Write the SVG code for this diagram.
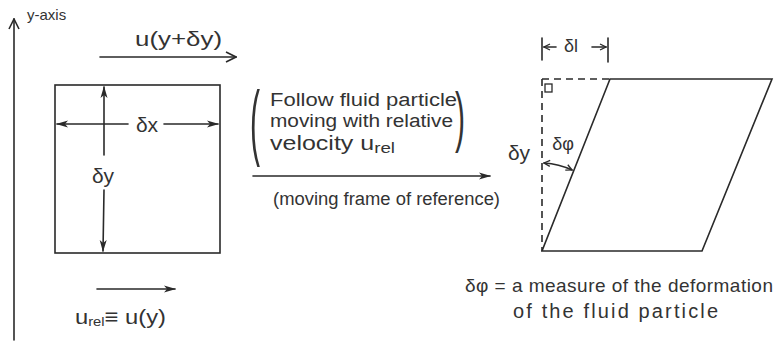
<svg xmlns="http://www.w3.org/2000/svg" width="779" height="342" viewBox="0 0 779 342">
<defs>
<style>
.ln{stroke:#2a2a2a;stroke-width:1.6;fill:none;stroke-linecap:round}
.ds{stroke:#2a2a2a;stroke-width:1.6;fill:none;stroke-dasharray:7 5}
.t{font-family:"Liberation Sans",Arial,sans-serif;fill:#333}
.big{font-size:21px}
.mid{font-size:18px}
.sm{font-size:15px}
</style>
<marker id="fa" viewBox="0 0 12 8" refX="11" refY="4" markerWidth="12" markerHeight="8" markerUnits="userSpaceOnUse" orient="auto-start-reverse">
<path d="M0,0.5 L12,4 L0,7.5 L3,4 Z" fill="#2a2a2a"/>
</marker>
<marker id="oa" viewBox="0 0 12 12" refX="11" refY="6" markerWidth="12" markerHeight="12" markerUnits="userSpaceOnUse" orient="auto-start-reverse">
<path d="M1,1 L11,6 L1,11" fill="none" stroke="#2a2a2a" stroke-width="1.6"/>
</marker>
<marker id="sa" viewBox="0 0 8 8" refX="7" refY="4" markerWidth="8" markerHeight="8" markerUnits="userSpaceOnUse" orient="auto-start-reverse">
<path d="M1,1 L7,4 L1,7" fill="none" stroke="#2a2a2a" stroke-width="1.3"/>
</marker>
</defs>
<rect width="779" height="342" fill="#fff"/>

<g id="y-axis">
<line class="ln" x1="14" y1="340" x2="14" y2="19" marker-end="url(#oa)"/>
<text class="t sm" x="27" y="20">y-axis</text>
</g>

<g id="element">
<rect class="ln" x="55" y="85" width="165" height="168"/>
<text class="t big" x="147" y="132" text-anchor="middle">δx</text>
<text class="t big" x="103" y="183" text-anchor="middle">δy</text>
</g>

<g id="deformed-element">
<polygon class="ln" points="542,251 702,251 772,79 610,79"/>
<line class="ds" x1="542" y1="79" x2="542" y2="251"/>
<line class="ds" x1="542" y1="79" x2="610" y2="79"/>
<rect x="545" y="84" width="7" height="8" fill="none" stroke="#2a2a2a" stroke-width="1.3"/>
<line class="ln" x1="542" y1="38" x2="542" y2="60"/>
<line class="ln" x1="608" y1="38" x2="608" y2="62"/>
<text class="t mid" x="571" y="52" text-anchor="middle">δl</text>
<text class="t big" x="519" y="160" text-anchor="middle">δy</text>
<text class="t mid" x="563" y="150" text-anchor="middle">δφ</text>
</g>

<g id="labels">
<text class="t big" x="135" y="46" textLength="87" lengthAdjust="spacingAndGlyphs">u(y+δy)</text>
<text class="t big" x="75" y="324" textLength="91" lengthAdjust="spacingAndGlyphs">u<tspan font-size="13" dy="2">rel</tspan><tspan dy="-2">≡ u(y)</tspan></text>
<text class="t mid" x="270" y="106" textLength="187" lengthAdjust="spacingAndGlyphs">Follow fluid particle</text>
<text class="t mid" x="270" y="127" textLength="183" lengthAdjust="spacingAndGlyphs">moving with relative</text>
<text class="t" x="270" y="150" font-size="20" textLength="125" lengthAdjust="spacingAndGlyphs">velocity  u<tspan font-size="15" dy="3">rel</tspan></text>
<text class="t" x="0" y="0" font-size="30" transform="translate(250 150) scale(1 2.8)">(</text>
<text class="t" x="0" y="0" font-size="30" transform="translate(455 139) scale(1 2.2)">)</text>
<text class="t mid" x="273" y="205" textLength="227" lengthAdjust="spacingAndGlyphs">(moving frame of reference)</text>
<text class="t" x="465" y="292" font-size="19" textLength="308" lengthAdjust="spacing">δφ = a measure of the deformation</text>
<text class="t" x="513" y="318" font-size="20" textLength="205" lengthAdjust="spacing">of the fluid particle</text>
</g>

<g id="connectors">
<line class="ln" x1="100" y1="57" x2="236" y2="57" marker-end="url(#oa)"/>
<line class="ln" x1="57" y1="124" x2="128" y2="124" marker-start="url(#fa)"/>
<line class="ln" x1="164" y1="124" x2="218" y2="124" marker-end="url(#fa)"/>
<line class="ln" x1="104" y1="155" x2="104" y2="87" marker-end="url(#fa)"/>
<line class="ln" x1="104" y1="190" x2="103" y2="251" marker-end="url(#fa)"/>
<line class="ln" x1="97" y1="289" x2="175" y2="289" marker-end="url(#fa)"/>
<line class="ln" x1="253" y1="176" x2="490" y2="176" marker-end="url(#fa)"/>
<line class="ln" x1="556" y1="47" x2="544" y2="47" marker-end="url(#sa)"/>
<line class="ln" x1="592" y1="47" x2="606" y2="47" marker-end="url(#sa)"/>
<path class="ln" d="M544,163 Q559,164 572,170" marker-start="url(#sa)" marker-end="url(#sa)"/>
</g>
</svg>
